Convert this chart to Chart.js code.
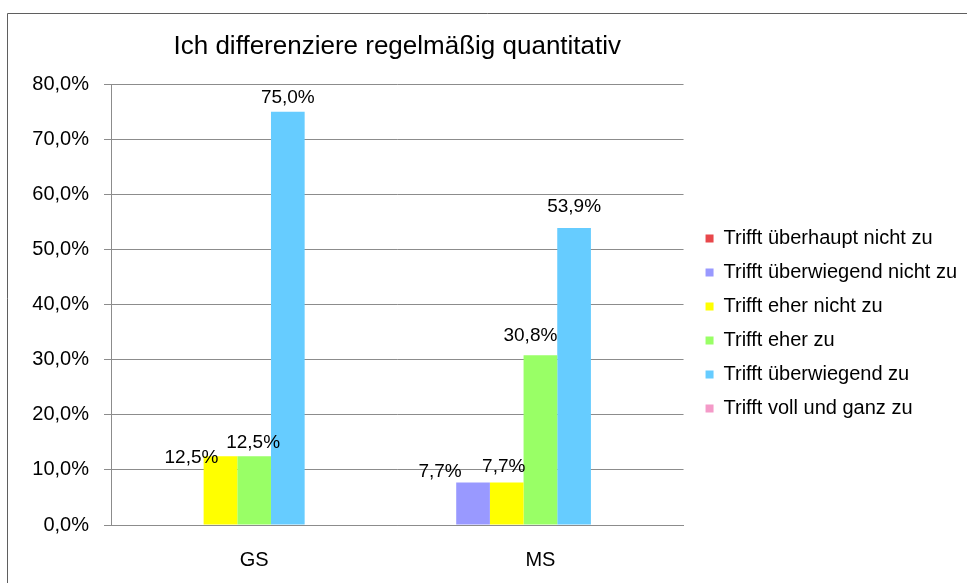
<!DOCTYPE html>
<html>
<head>
<meta charset="utf-8">
<title>Ich differenziere regelmäßig quantitativ</title>
<script src="https://cdn.jsdelivr.net/npm/chart.js@4.4.1/dist/chart.umd.min.js"></script>
<style>
html,body{margin:0;padding:0;background:#fff;}
#wrap{width:967px;height:583px;}
</style>
</head>
<body>
<div id="wrap"><canvas id="chart" width="967" height="583"></canvas></div>
<script>
var categories = ['GS', 'MS'];
var seriesNames = [
    'Trifft überhaupt nicht zu',
    'Trifft überwiegend nicht zu',
    'Trifft eher nicht zu',
    'Trifft eher zu',
    'Trifft überwiegend zu',
    'Trifft voll und ganz zu'
];
// percent per answer, empty cells are null
var gsValues = [null, null, 12.5, 12.5, 75.0, null];
var msValues = [null, 7.7, 7.7, 30.8, 53.9, null];
var seriesColors = ['#E8474B', '#9999FF', '#FFFF00', '#99FF66', '#66CCFF', '#F49AC8'];

var FONT = "'Liberation Sans', Arial, sans-serif";

// nudges of the value labels (dataset index -> category index -> [dx, dy])
var labelNudge = {
    1: {1: [-33, -11]},
    2: {0: [-29, 2], 1: [-3, -16]},
    3: {0: [-1, -13], 1: [-10, -20]},
    4: {0: [0, -14], 1: [0, -21]}
};

function pct(v){
    return v.toFixed(1).replace('.', ',') + '%';
}

var datasets = [];
for (var i = 0; i < seriesNames.length; i++){
    datasets.push({
        label: seriesNames[i],
        data: [gsValues[i], msValues[i]],
        backgroundColor: seriesColors[i],
        borderWidth: 0
    });
}
// the sheet has a seventh, empty column, which keeps its slot in each group
datasets.push({label: '', data: [null, null], backgroundColor: '#fff', borderWidth: 0});

var frame = {
    id: 'frame',
    beforeDraw: function(chart){
        var c = chart.ctx;
        c.save();
        c.strokeStyle = '#5f5f5f';
        c.lineWidth = 1;
        c.beginPath();
        c.moveTo(7.5, chart.height);
        c.lineTo(7.5, 13.5);
        c.lineTo(chart.width, 13.5);
        c.stroke();
        c.restore();
    }
};

var valueLabels = {
    id: 'valueLabels',
    afterDatasetsDraw: function(chart){
        var c = chart.ctx;
        c.save();
        c.font = '19px ' + FONT;
        c.fillStyle = '#000';
        c.textAlign = 'center';
        c.textBaseline = 'middle';
        chart.data.datasets.forEach(function(ds, di){
            var meta = chart.getDatasetMeta(di);
            meta.data.forEach(function(bar, ci){
                var v = ds.data[ci];
                if (v == null) return;
                var n = (labelNudge[di] && labelNudge[di][ci]) || [0, -14];
                c.fillText(pct(v), bar.x + n[0], bar.y + n[1]);
            });
        });
        c.restore();
    }
};

var chart = new Chart(document.getElementById('chart').getContext('2d'), {
    type: 'bar',
    data: {labels: categories, datasets: datasets},
    plugins: [frame, valueLabels],
    options: {
        responsive: false,
        animation: false,
        layout: {padding: {left: 32, right: 0, top: 0, bottom: 11}},
        datasets: {bar: {categoryPercentage: 7 / 8.5, barPercentage: 1}},
        plugins: {
            tooltip: {enabled: false},
            title: {
                display: true,
                fullSize: false,
                text: 'Ich differenziere regelmäßig quantitativ',
                color: '#000',
                font: {family: FONT, size: 26, weight: 'normal'},
                padding: {top: 31, bottom: 22}
            },
            legend: {
                position: 'right',
                fullSize: false,
                maxWidth: 300,
                title: {display: true, text: '', font: {size: 20}, padding: 7},
                labels: {
                    boxWidth: 8,
                    boxHeight: 8,
                    padding: 14,
                    color: '#000',
                    font: {family: FONT, size: 20},
                    filter: function(item){ return item.text !== ''; }
                }
            }
        },
        scales: {
            x: {
                grid: {display: false, drawTicks: false},
                border: {display: true, color: '#8c8c8c', width: 1},
                ticks: {color: '#000', padding: 23, font: {family: FONT, size: 20}},
                afterFit: function(s){ s.height = 47; }
            },
            y: {
                min: 0,
                max: 80,
                ticks: {
                    stepSize: 10,
                    color: '#000',
                    padding: 15,
                    font: {family: FONT, size: 20},
                    callback: function(v){ return pct(v); }
                },
                grid: {color: '#8c8c8c', lineWidth: 1, tickLength: 7},
                border: {display: true, color: '#8c8c8c', width: 1},
                afterFit: function(s){ s.width = 79; }
            },
            gap: {
                position: 'right',
                display: true,
                grid: {display: false, drawTicks: false},
                border: {display: false},
                ticks: {display: false},
                afterFit: function(s){ s.width = 8; }
            }
        }
    }
});
</script>
</body>
</html>
